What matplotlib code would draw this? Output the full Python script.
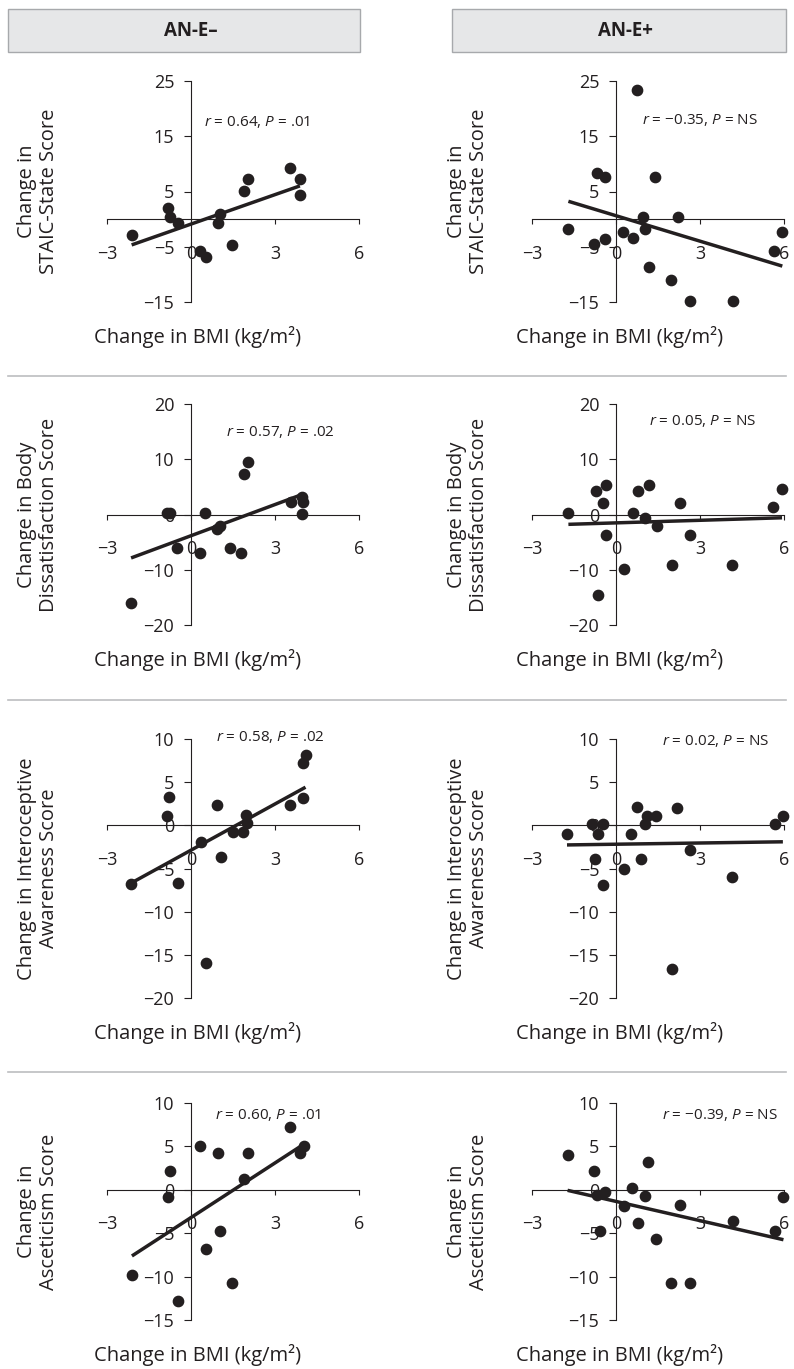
import numpy as np
import matplotlib
matplotlib.use('Agg')
import matplotlib.pyplot as plt
from matplotlib.patches import Rectangle
from matplotlib.lines import Line2D

plt.rcParams['font.family'] = ['Open Sans', 'DejaVu Sans']
plt.rcParams['mathtext.fontset'] = 'custom'
plt.rcParams['mathtext.it'] = 'Open Sans:italic'
plt.rcParams['mathtext.rm'] = 'Open Sans'

# --- data ---
groups = ['AN-E–', 'AN-E+']
y_titles = ['Change in\nSTAIC-State Score',
            'Change in Body\nDissatisfaction Score',
            'Change in Interoceptive\nAwareness Score',
            'Change in\nAsceticism Score']
x_title = 'Change in BMI (kg/m²)'
x_ticks = [-3, 0, 3, 6]
y_limits = [(-15, 25), (-20, 20), (-20, 10), (-15, 10)]
y_ticks = [[-15, -5, 5, 15, 25],
           [-20, -10, 0, 10, 20],
           [-20, -15, -10, -5, 0, 5, 10],
           [-15, -10, -5, 0, 5, 10]]

# STAIC-State
x_stai_neg = [-2.12, -0.81, -0.75, -0.45, 0.32, 0.54, 0.98, 1.04, 1.45, 1.89, 2.05, 3.54, 3.89, 3.89]
y_stai_neg = [-2.9, 2.1, 0.3, -0.7, -5.7, -6.9, -0.7, 1.0, -4.7, 5.1, 7.2, 9.3, 7.2, 4.3]
x_stai_pos = [0.76, -0.68, -0.38, 1.40, -1.70, -0.78, -0.38, 0.24, 0.60, 0.96, 1.04, 2.20,
              1.19, 1.98, 2.63, 4.17, 5.94, 5.64]
y_stai_pos = [23.4, 8.4, 7.6, 7.6, -1.7, -4.5, -3.6, -2.4, -3.5, 0.4, -1.8, 0.4,
              -8.6, -11.0, -14.8, -14.8, -2.4, -5.7]

# Body dissatisfaction
x_body_neg = [-0.84, -0.76, 0.49, -0.49, 0.31, 0.92, 1.04, 1.41, 1.78, 1.88, 2.03, 3.56, 3.97, 4.0, 3.97, -2.14]
y_body_neg = [0.2, 0.2, 0.2, -6.0, -7.0, -2.7, -2.1, -6.0, -7.0, 7.3, 9.5, 2.3, 3.1, 2.2, 0.1, -16.0]
x_body_pos = [-1.70, -0.72, -0.37, -0.48, -0.37, -0.66, 0.28, 0.59, 0.79, 1.17, 1.04, 1.45,
              2.27, 1.99, 2.63, 4.16, 5.62, 5.93]
y_body_pos = [0.2, 4.2, 5.3, 2.0, -3.7, -14.6, -9.9, 0.2, 4.2, 5.3, -0.7, -2.0,
              2.0, -9.2, -3.7, -9.2, 1.4, 4.6]

# Interoceptive awareness
x_intero_neg = [-2.16, -0.85, -0.77, -0.46, 0.34, 0.55, 0.94, 1.07, 1.49, 1.87, 1.95, 2.01, 3.54, 4.0, 4.0, 4.09]
y_intero_neg = [-6.8, 1.1, 3.3, -6.7, -1.9, -15.9, 2.3, -3.7, -0.8, -0.8, 1.2, 0.3, 2.3, 3.2, 7.2, 8.2]
x_intero_pos = [-1.75, -0.87, -0.48, -0.63, -0.75, -0.46, 0.27, 0.54, 0.75, 1.11, 1.05, 1.42,
                0.90, 2.19, 1.99, 2.63, 4.16, 5.69, 5.96]
y_intero_pos = [-1.05, 0.1, 0.1, -1.05, -3.85, -6.9, -5.0, -1.05, 2.1, 1.1, 0.1, 1.1,
                -3.85, 2.0, -16.6, -2.9, -6.0, 0.1, 1.1]

# Asceticism
x_asc_neg = [-2.11, -0.75, -0.83, -0.45, 0.32, 0.54, 0.98, 1.04, 1.46, 1.90, 2.02, 3.54, 3.90, 4.02]
y_asc_neg = [-9.8, 2.2, -0.8, -12.8, 5.1, -6.8, 4.2, -4.7, -10.7, 1.3, 4.2, 7.2, 4.2, 5.1]
x_asc_pos = [-1.73, -0.78, -0.68, -0.38, -0.56, 0.27, 0.58, 0.77, 1.05, 1.14, 1.44, 2.27,
             1.98, 2.64, 4.19, 5.67, 5.98]
y_asc_pos = [4.05, 2.2, -0.6, -0.2, -4.8, -1.9, 0.2, -3.8, -0.7, 3.2, -5.7, -1.8,
             -10.7, -10.7, -3.6, -4.7, -0.8]

stats_text = [['$r$ = 0.64, $P$ = .01', '$r$ = −0.35, $P$ = NS'],
              ['$r$ = 0.57, $P$ = .02', '$r$ = 0.05, $P$ = NS'],
              ['$r$ = 0.58, $P$ = .02', '$r$ = 0.02, $P$ = NS'],
              ['$r$ = 0.60, $P$ = .01', '$r$ = −0.39, $P$ = NS']]

panels = [[(x_stai_neg, y_stai_neg), (x_stai_pos, y_stai_pos)],
          [(x_body_neg, y_body_neg), (x_body_pos, y_body_pos)],
          [(x_intero_neg, y_intero_neg), (x_intero_pos, y_intero_pos)],
          [(x_asc_neg, y_asc_neg), (x_asc_pos, y_asc_pos)]]

# --- layout (pixels) ---
W, H = 794, 1369
col_x = [(107, 359), (532, 784)]
row_y = [(81, 302), (404, 625), (739, 998), (1103, 1320)]
stat_pos = [[(0.46, 17.6), (0.94, 18.0)],
            [(1.26, 14.9), (1.17, 17.0)],
            [(0.88, 10.2), (1.66, 9.8)],
            [(0.86, 8.6), (1.63, 8.6)]]
ylabel_x = [38, 468]
xlabel_x = [198, 620]
sep_y = [376, 700, 1072]
ink = '#231f20'

fig = plt.figure(figsize=(W / 100, H / 100), dpi=100)

def px_rect(x0, x1, top, bot):
    return [x0 / W, 1 - bot / H, (x1 - x0) / W, (bot - top) / H]

# group headers
for (bx0, bx1), name in zip([(8, 360), (452, 786)], groups):
    fig.patches.append(Rectangle((bx0 / W, 1 - 52 / H), (bx1 - bx0) / W, 43 / H,
                                 transform=fig.transFigure, facecolor='#e6e7e8',
                                 edgecolor='#a7a9ac', lw=1))
    fig.text((bx0 + bx1) / 2 / W + 0.008, 1 - 31 / H, name, ha='center', va='center',
             fontsize=13.5, fontweight='bold', color=ink)

# row separators
for sy in sep_y:
    fig.add_artist(Line2D([8 / W, 786 / W], [1 - sy / H, 1 - sy / H],
                          transform=fig.transFigure, color='#bcbec0', lw=1.2))

for r in range(4):
    top, bot = row_y[r]
    for c in range(2):
        x0, x1 = col_x[c]
        ax = fig.add_axes(px_rect(x0, x1, top, bot))
        xs, ys = panels[r][c]
        xs = np.array(xs)
        ys = np.array(ys)
        ax.scatter(xs, ys, s=55, color=ink, zorder=3, clip_on=False)
        # least-squares trend line over the range of the data
        slope, icpt = np.polyfit(xs, ys, 1)
        xl = np.array([xs.min(), xs.max()])
        ax.plot(xl, slope * xl + icpt, color=ink, lw=2.5, zorder=4,
                solid_capstyle='butt')

        ax.set_xlim(-3, 6)
        ax.set_ylim(*y_limits[r])
        for s in ['top', 'right']:
            ax.spines[s].set_visible(False)
        ax.spines['left'].set_position(('data', 0))
        ax.spines['bottom'].set_position(('data', 0))
        for s in ['left', 'bottom']:
            ax.spines[s].set_color(ink)
            ax.spines[s].set_linewidth(0.8)
        ax.patch.set_alpha(0)
        ax.set_xticks(x_ticks)
        ax.set_yticks(y_ticks[r])
        ax.tick_params(axis='x', direction='out', length=3.5, width=0.8,
                       pad=15, labelsize=13, colors=ink)
        ax.tick_params(axis='y', direction='out', length=5, width=0.8,
                       pad=7, labelsize=13, colors=ink)

        tx, ty = stat_pos[r][c]
        ax.text(tx, ty, stats_text[r][c], ha='left', va='center',
                fontsize=11, color=ink)

        fig.text(ylabel_x[c] / W, 1 - (top + bot) / 2 / H, y_titles[r],
                 rotation=90, ha='center', va='center', fontsize=14.5,
                 color=ink, multialignment='center', linespacing=1.1)
        fig.text(xlabel_x[c] / W, 1 - (bot + 35) / H, x_title, ha='center',
                 va='center', fontsize=14.5, color=ink)

fig.savefig('out.png', dpi=100)
